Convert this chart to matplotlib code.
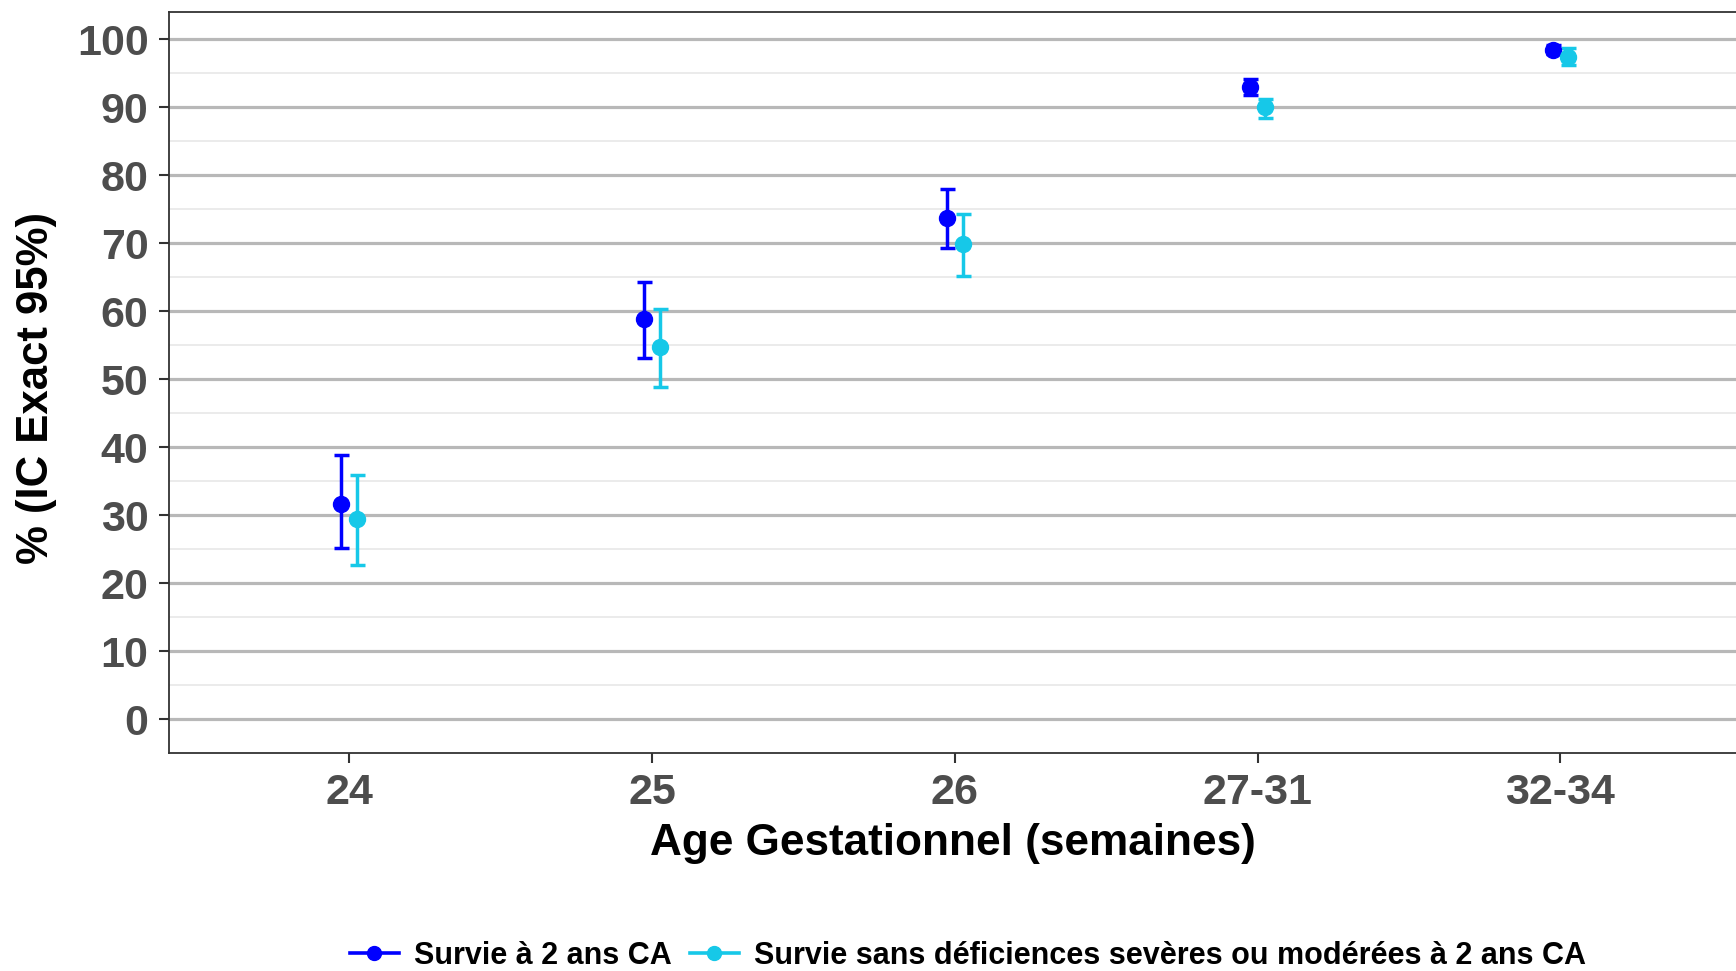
import matplotlib
matplotlib.use("Agg")
import matplotlib.pyplot as plt
from matplotlib.lines import Line2D
from matplotlib.ticker import MultipleLocator
import numpy as np

plt.rcParams['font.family'] = ['Liberation Sans', 'DejaVu Sans']
plt.rcParams['font.weight'] = 'bold'

# data
groups = ['24', '25', '26', '27-31', '32-34']
survie = [31.7, 58.9, 73.8, 93.0, 98.5]
survie_low = [25.2, 53.1, 69.4, 91.9, 97.8]
survie_high = [38.9, 64.4, 78.0, 94.2, 99.2]
sans_def = [29.4, 54.7, 69.9, 90.0, 97.4]
sans_def_low = [22.7, 48.9, 65.2, 88.5, 96.2]
sans_def_high = [36.0, 60.4, 74.4, 91.3, 98.7]

lab_survie = 'Survie à 2 ans CA'
lab_sans = 'Survie sans déficiences sevères ou modérées à 2 ans CA'
col_survie = '#0000FF'
col_sans = '#16C8E8'

fig = plt.figure(figsize=(17.36, 9.71), dpi=100)
ax = fig.add_axes([169/1736, 1-752.7/971, 1-169/1736, (752.7-12.3)/971])

x = np.arange(1, len(groups)+1)
dodge = 0.026

for xs, y, lo, hi, c in [(x-dodge, survie, survie_low, survie_high, col_survie),
                         (x+dodge, sans_def, sans_def_low, sans_def_high, col_sans)]:
    y = np.array(y)
    err = [y-np.array(lo), np.array(hi)-y]
    ax.errorbar(xs, y, yerr=err, fmt='o', color=c, ecolor=c, markersize=11.5,
                elinewidth=2.5, capsize=5.4, capthick=2.5, zorder=3)

ax.set_xlim(0.405, 5.58)
ax.set_ylim(-4.9, 104)
ax.set_xticks(x)
ax.set_xticklabels(groups)
ax.yaxis.set_major_locator(MultipleLocator(10))
ax.yaxis.set_minor_locator(MultipleLocator(5))

ax.grid(axis='y', which='major', color='#B8B8B8', linewidth=2.3, zorder=0)
ax.grid(axis='y', which='minor', color='#EBEBEB', linewidth=1.4, zorder=0)
ax.set_axisbelow(True)

for s in ['top', 'left', 'bottom']:
    ax.spines[s].set_color('#333333')
    ax.spines[s].set_linewidth(1.3)
ax.spines['right'].set_visible(False)

ax.tick_params(axis='both', which='major', length=7.5, width=1.5, color='#333333',
               labelsize=31, labelcolor='#4D4D4D', pad=7.2)
ax.tick_params(axis='y', which='minor', length=0)
for t in ax.get_xticklabels() + ax.get_yticklabels():
    t.set_fontweight('bold')

ax.set_xlabel('Age Gestationnel (semaines)', fontsize=31.8, fontweight='bold',
              color='black', va='baseline')
ax.xaxis.set_label_coords(0.5, (752.7-855)/740.4)
ax.set_ylabel('% (IC Exact 95%)', fontsize=31.5, fontweight='bold', color='black',
              va='baseline', ha='center', rotation_mode='anchor')
ax.yaxis.set_label_coords((48-169)/1567, (752.7-388)/740.4)

handles = [Line2D([], [], color=col_survie, marker='o', markersize=10, linewidth=2.6),
           Line2D([], [], color=col_sans, marker='o', markersize=10, linewidth=2.6)]
fig.legend(handles, [lab_survie, lab_sans], loc='center', ncol=2,
           bbox_to_anchor=(968/1736, 1-956/971), frameon=False,
           prop={'size': 22, 'weight': 'bold'}, handlelength=1.6,
           handletextpad=0.5, columnspacing=0.6, borderaxespad=0)

fig.savefig('out.png', dpi=100)
